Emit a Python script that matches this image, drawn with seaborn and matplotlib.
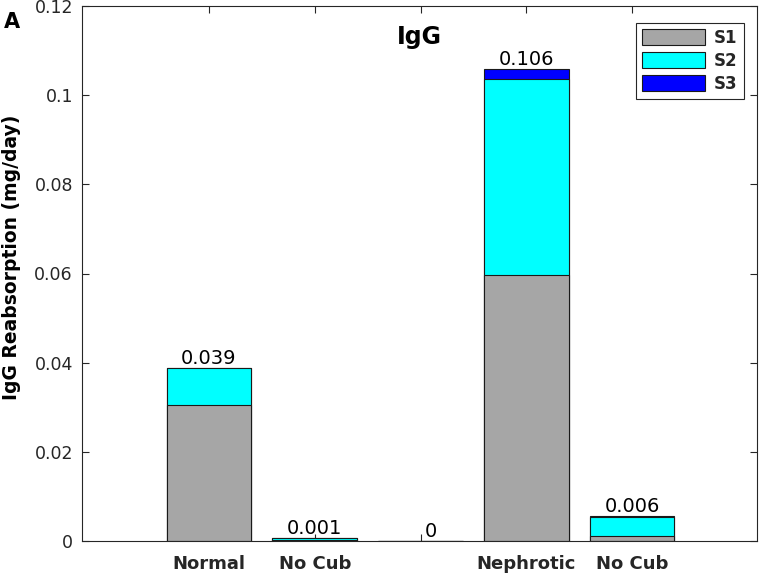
import numpy as np
import pandas as pd
import matplotlib
matplotlib.use("Agg")
import matplotlib.pyplot as plt
import seaborn as sns
from matplotlib.patches import Patch
from matplotlib.ticker import FuncFormatter

# ---- data ----
groups = ["Normal", "No Cub", "", "Nephrotic", "No Cub"]
s1 = [0.0304, 0.0003, 0.0, 0.0597, 0.0011]
s2 = [0.0083, 0.0003, 0.0, 0.0439, 0.0042]
s3 = [0.0, 0.0, 0.0, 0.0022, 0.0003]
series_names = ["S1", "S2", "S3"]
series_colors = ["#A6A6A6", "#00FFFF", "#0000FF"]
yticks = [0, 0.02, 0.04, 0.06, 0.08, 0.1, 0.12]
title = "IgG"
ylabel = "IgG Reabsorption (mg/day)"
panel = "A"

sns.set_theme(style="white")
plt.rcParams["font.family"] = ["DejaVu Sans"]

axcol = "#262626"
edge = "#1a1a1a"

fig = plt.figure(figsize=(7.6, 5.75), dpi=100)
ax = fig.add_axes([82 / 760, 34 / 575, 675 / 760, 535 / 575])

pos = np.arange(1, len(groups) + 1)
df = pd.DataFrame({"S1": s1, "S2": s2, "S3": s3})
cum = df.cumsum(axis=1)
cum["pos"] = pos

for name, color in reversed(list(zip(series_names, series_colors))):
    sns.barplot(data=cum, x="pos", y=name, native_scale=True, color=color,
                saturation=1, width=0.8, edgecolor=edge, linewidth=0.8,
                errorbar=None, ax=ax, zorder=2)

totals = cum["S3"].values
for p, t in zip(pos, totals):
    r = round(float(t), 3)
    lab = "0" if r == 0 else f"{r:g}"
    dx = 0.1 if r == 0 else 0.0
    ax.text(p + dx, t, lab, ha="center", va="bottom", fontsize=14,
            color="black", zorder=3)

ax.set_xlim(-0.2, 6.18)
ax.set_ylim(0, 0.12)
ax.set_xticks(pos)
ax.set_xticklabels(groups, fontweight="bold", fontsize=13, color=axcol)
ax.set_yticks(yticks)
ax.yaxis.set_major_formatter(FuncFormatter(lambda v, _: f"{v:g}"))
for lab in ax.get_yticklabels():
    lab.set_fontsize(12.5)
    lab.set_color(axcol)
ax.set_xlabel("")
ax.set_ylabel(ylabel, fontsize=13.5, fontweight="bold", color="black")
ax.yaxis.set_label_coords(-0.090, 0.531)

ax.tick_params(axis="both", direction="in", length=5, width=0.8,
               top=True, right=True, bottom=True, left=True, color=axcol)
ax.tick_params(axis="x", pad=10)
ax.tick_params(axis="y", pad=6.5)
for sp in ax.spines.values():
    sp.set_visible(True)
    sp.set_color(axcol)
    sp.set_linewidth(0.8)

ax.text(0.5, 0.9284, title, transform=ax.transAxes, ha="center",
        va="baseline", fontsize=17, fontweight="bold", color="black")
fig.text(11.5 / 760, 1 - 28 / 575, panel, ha="center", va="baseline",
         fontsize=15, fontweight="bold", color="black")

handles = [Patch(facecolor=c, edgecolor=edge, linewidth=0.8, label=n)
           for n, c in zip(series_names, series_colors)]
leg = ax.legend(handles=handles, loc="upper right",
                bbox_to_anchor=(0.98, 0.969), borderaxespad=0,
                fancybox=False, framealpha=1, edgecolor=axcol,
                handlelength=3.78, handleheight=1.08, labelspacing=0.3,
                borderpad=0.38, handletextpad=0.5,
                prop={"weight": "bold", "size": 12})
leg.get_frame().set_linewidth(0.8)

fig.savefig("out.png", dpi=100)
